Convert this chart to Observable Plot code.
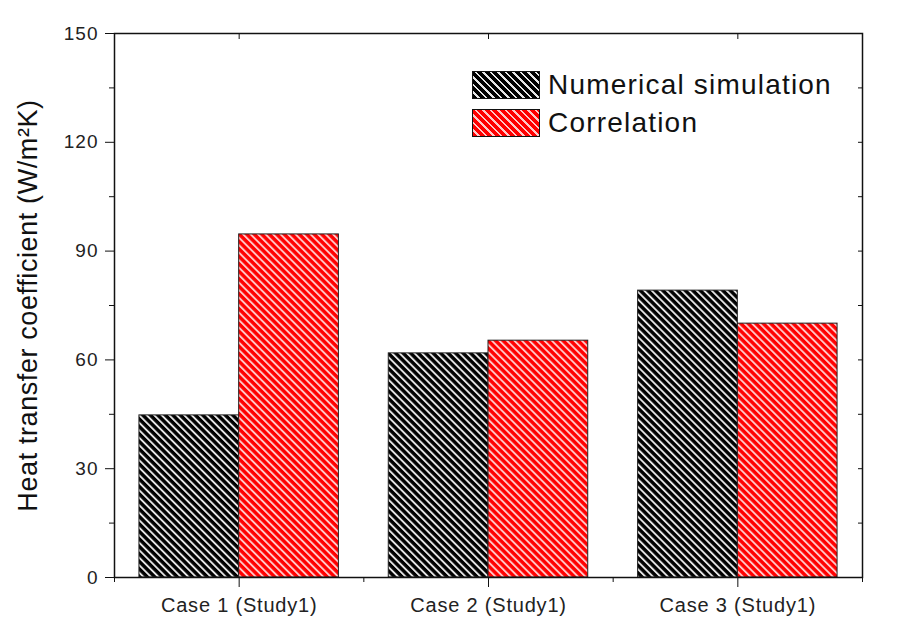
<!DOCTYPE html>
<html><head><meta charset="utf-8">
<script src="https://cdn.jsdelivr.net/npm/d3@7"></script>
<script src="https://cdn.jsdelivr.net/npm/@observablehq/plot@0.6"></script>
<style>
body{margin:0;background:#fff;}
#wrap{position:relative;width:905px;height:636px;font-family:"Liberation Sans",Arial,sans-serif;}
#legend{position:absolute;left:472px;top:66px;}
.row{display:flex;align-items:center;height:38px;}
.sw{width:68px;height:28px;border:1px solid #111;box-sizing:border-box;margin-right:8px;}
.lab{font-size:28px;letter-spacing:1.2px;color:#111;}
</style></head><body><div id="wrap"><div id="legend"></div></div>
<script>
// ---- data ----
const cases = ["Case 1 (Study1)", "Case 2 (Study1)", "Case 3 (Study1)"];
const caseIndex = [1, 2, 3];
const numerical = [44.7, 61.8, 79.1];
const correlation = [94.6, 65.3, 70.0];
const seriesNames = ["Numerical simulation", "Correlation"];
const yMajor = [0, 30, 60, 90, 120, 150];
const yMinor = [15, 45, 75, 105, 135];
const xMinor = [0.5, 1.5, 2.5, 3.5];
const yLabel = "Heat transfer coefficient (W/m²K)";

const barW = 0.4;
const rows = cases.flatMap((c, i) => [
  {case: c, series: seriesNames[0], value: numerical[i], x1: caseIndex[i] - barW, x2: caseIndex[i]},
  {case: c, series: seriesNames[1], value: correlation[i], x1: caseIndex[i], x2: caseIndex[i] + barW}
]);

const chart = Plot.plot({
  width: 905, height: 636,
  marginLeft: 114, marginRight: 43, marginTop: 33, marginBottom: 59,
  style: {fontFamily: "'Liberation Sans', Arial, sans-serif", background: "#fff", color: "#111"},
  x: {domain: [0.5, 3.5]},
  y: {domain: [0, 150]},
  marks: [
    Plot.rectY(rows.filter(d => d.series === seriesNames[0]), {x1: "x1", x2: "x2", y1: 0, y2: "value", fill: "url(#hatchBlack)", stroke: "#222", strokeWidth: 1}),
    Plot.rectY(rows.filter(d => d.series === seriesNames[1]), {x1: "x1", x2: "x2", y1: 0, y2: "value", fill: "url(#hatchRed)", stroke: "#222", strokeWidth: 1}),
    Plot.frame({stroke: "#111", strokeWidth: 1.5}),
    Plot.axisY({ticks: yMajor, tickSize: 9, tickPadding: 7, label: yLabel, labelAnchor: "center", labelArrow: "none", labelOffset: 97, stroke: "#111", fill: "#222"}),
    Plot.axisY({ticks: yMinor, tickSize: 5, tickFormat: () => "", label: null, stroke: "#111"}),
    Plot.axisY({anchor: "right", ticks: [...yMajor, ...yMinor], tickSize: 5, dx: -5, tickFormat: () => "", label: null, stroke: "#111"}),
    Plot.axisX({ticks: caseIndex, tickSize: 10, tickPadding: 10, tickFormat: i => cases[i - 1], label: null, stroke: "#111", fill: "#222"}),
    Plot.axisX({ticks: xMinor, tickSize: 5, tickFormat: () => "", label: null, stroke: "#111"}),
    Plot.axisX({anchor: "top", ticks: caseIndex, tickSize: 5, dy: 5, tickFormat: () => "", label: null, stroke: "#111"})
  ]
});

// hatch patterns
const svg = d3.select(chart);
const defs = svg.insert("defs", ":first-child");
function hatch(id, bg, fg) {
  const s = 5.3;
  const p = defs.append("pattern").attr("id", id).attr("patternUnits", "userSpaceOnUse")
    .attr("width", s).attr("height", s).attr("patternTransform", "rotate(-45)");
  p.append("rect").attr("width", s).attr("height", s).attr("fill", bg);
  p.append("rect").attr("x", 0).attr("width", 1.9).attr("height", s).attr("fill", fg);
}
hatch("hatchBlack", "#000", "#e6e6e6");
hatch("hatchRed", "#ff0000", "#ffc8c8");
svg.selectAll('g[aria-label="y-axis label"]').attr("font-size", 27).attr("fill", "#111").attr("letter-spacing", 0.6);
svg.selectAll('g[aria-label="y-axis tick label"]').attr("font-size", 19).attr("letter-spacing", 1);
svg.selectAll('g[aria-label="x-axis tick label"]').attr("font-size", 20).attr("letter-spacing", 0.8);

document.getElementById("wrap").prepend(chart);

// legend
const legendFills = [
  "repeating-linear-gradient(45deg, #000 0 3.4px, #e6e6e6 3.4px 5.3px)",
  "repeating-linear-gradient(45deg, #ff0000 0 3.4px, #ffc8c8 3.4px 5.3px)"
];
const lg = d3.select("#legend");
seriesNames.forEach((n, i) => {
  const r = lg.append("div").attr("class", "row");
  r.append("div").attr("class", "sw").style("background", legendFills[i]);
  r.append("div").attr("class", "lab").text(n);
});
</script></body></html>
